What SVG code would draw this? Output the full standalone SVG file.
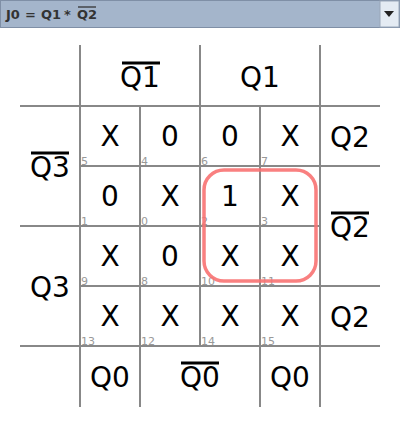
<svg xmlns="http://www.w3.org/2000/svg" width="400" height="424" viewBox="0 0 400 424">
<style>
.g{stroke:#888;stroke-width:2;fill:none}
.v{font-family:"DejaVu Sans",sans-serif;font-size:28px;fill:#000;text-anchor:middle}
.n{font-family:"DejaVu Sans",sans-serif;font-size:11px;fill:#999}
.ov{stroke:#000;stroke-width:3}
.t{font-family:"DejaVu Sans",sans-serif;font-size:13px;font-weight:bold;fill:#333}
</style>
<rect x="0" y="0" width="400" height="424" fill="#fff"/>
<g id="titlebar">
<rect x="0.5" y="0.5" width="399" height="27" fill="#a4b5cb" stroke="#7f8fa6"/>
<rect x="380" y="1" width="19" height="26" fill="#e4ebf3" stroke="#9aa8ba"/>
<polygon points="384,11 394,11 389,17" fill="#222"/>
<text class="t" x="6" y="19">J0</text>
<text class="t" x="25" y="19">=</text>
<text class="t" x="41" y="19">Q1</text>
<text class="t" x="64" y="19">*</text>
<text class="t" x="77" y="19">Q2</text>
<line x1="78" y1="7" x2="96" y2="7" stroke="#333" stroke-width="1.3"/>
</g>
<g id="grid">
<line class="g" x1="80" y1="45" x2="80" y2="407"/>
<line class="g" x1="140" y1="106" x2="140" y2="407"/>
<line class="g" x1="200" y1="45" x2="200" y2="346"/>
<line class="g" x1="260" y1="106" x2="260" y2="407"/>
<line class="g" x1="320" y1="45" x2="320" y2="407"/>
<line class="g" x1="20" y1="106" x2="380" y2="106"/>
<line class="g" x1="80" y1="166" x2="380" y2="166"/>
<line class="g" x1="20" y1="226" x2="320" y2="226"/>
<line class="g" x1="80" y1="286" x2="380" y2="286"/>
<line class="g" x1="20" y1="346" x2="380" y2="346"/>
</g>
<g id="labels">
<text class="v" x="140" y="87">Q1</text><line class="ov" x1="122" y1="63" x2="160" y2="63"/>
<text class="v" x="260" y="87">Q1</text>
<text class="v" x="50" y="177">Q3</text><line class="ov" x1="31" y1="153" x2="69" y2="153"/>
<text class="v" x="50" y="297">Q3</text>
<text class="v" x="350" y="147">Q2</text>
<text class="v" x="350" y="237">Q2</text><line class="ov" x1="331" y1="213" x2="369" y2="213"/>
<text class="v" x="350" y="327">Q2</text>
<text class="v" x="110" y="387">Q0</text>
<text class="v" x="200" y="387">Q0</text><line class="ov" x1="181" y1="363" x2="219" y2="363"/>
<text class="v" x="290" y="387">Q0</text>
</g>
<g id="cells">
<text class="v" x="110" y="146">X</text><text class="n" x="81" y="165">5</text>
<text class="v" x="170" y="146">0</text><text class="n" x="141" y="165">4</text>
<text class="v" x="230" y="146">0</text><text class="n" x="201" y="165">6</text>
<text class="v" x="290" y="146">X</text><text class="n" x="261" y="165">7</text>
<text class="v" x="110" y="206">0</text><text class="n" x="81" y="225">1</text>
<text class="v" x="170" y="206">X</text><text class="n" x="141" y="225">0</text>
<text class="v" x="230" y="206">1</text><text class="n" x="201" y="225">2</text>
<text class="v" x="290" y="206">X</text><text class="n" x="261" y="225">3</text>
<text class="v" x="110" y="266">X</text><text class="n" x="81" y="285">9</text>
<text class="v" x="170" y="266">0</text><text class="n" x="141" y="285">8</text>
<text class="v" x="230" y="266">X</text><text class="n" x="201" y="285">10</text>
<text class="v" x="290" y="266">X</text><text class="n" x="261" y="285">11</text>
<text class="v" x="110" y="326">X</text><text class="n" x="81" y="345">13</text>
<text class="v" x="170" y="326">X</text><text class="n" x="141" y="345">12</text>
<text class="v" x="230" y="326">X</text><text class="n" x="201" y="345">14</text>
<text class="v" x="290" y="326">X</text><text class="n" x="261" y="345">15</text>
</g>
<g id="group">
<rect x="204" y="170" width="112" height="111" rx="20" ry="20" fill="none" stroke="#f87272" stroke-opacity="0.9" stroke-width="3.5"/>
</g>
</svg>
